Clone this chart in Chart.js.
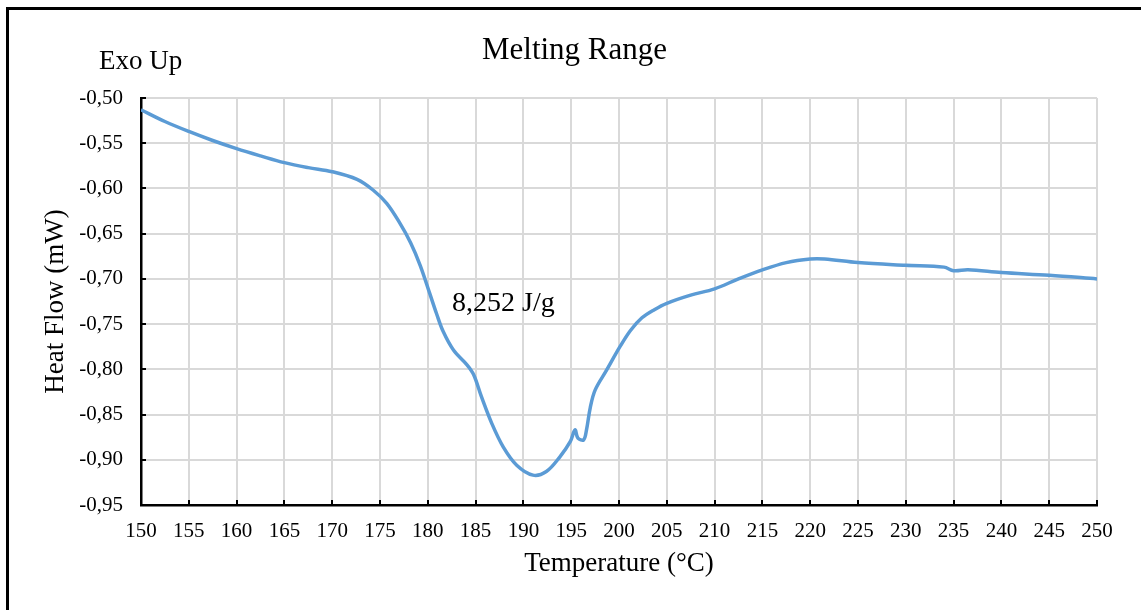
<!DOCTYPE html>
<html><head><meta charset="utf-8">
<script src="https://cdn.jsdelivr.net/npm/chart.js@4.4.1/dist/chart.umd.min.js"></script>
<style>
html,body{margin:0;padding:0;background:#fff;}
#wrap{position:relative;width:1141px;height:610px;overflow:hidden;background:#fff;}
#frame{position:absolute;left:6px;top:7px;right:-10px;bottom:-10px;border-top:3px solid #000;border-left:3px solid #000;pointer-events:none;}
</style></head><body>
<div id="wrap"><canvas id="c"></canvas><div id="frame"></div></div>
<script>
const temps = [150,152.5,155,157.5,160,162.5,165,167.5,170,172.6,174.3,175.7,177,178.2,179.2,180.2,180.9,181.6,182.7,184.1,184.8,185.6,186.7,187.9,189.3,191.0,192.4,193.8,194.9,195.4,195.7,196.3,196.6,197.0,197.5,198.7,200.1,201.2,202.4,203.7,205,207.5,210,212.5,215,217.5,220,221.5,225,230,234,235,236.5,240,245,250];
const heatFlow = [-0.513,-0.526,-0.537,-0.547,-0.556,-0.564,-0.5715,-0.577,-0.5815,-0.590,-0.602,-0.6165,-0.637,-0.660,-0.685,-0.716,-0.738,-0.758,-0.779,-0.795,-0.806,-0.830,-0.860,-0.886,-0.906,-0.917,-0.913,-0.897,-0.880,-0.867,-0.876,-0.878,-0.867,-0.842,-0.823,-0.801,-0.775,-0.757,-0.743,-0.734,-0.727,-0.718,-0.711,-0.700,-0.690,-0.682,-0.678,-0.678,-0.682,-0.685,-0.687,-0.691,-0.690,-0.693,-0.696,-0.700];
const xTickValues = [150,155,160,165,170,175,180,185,190,195,200,205,210,215,220,225,230,235,240,245,250];
const yTickValues = [-0.95,-0.90,-0.85,-0.80,-0.75,-0.70,-0.65,-0.60,-0.55,-0.50];
const chartTitle = 'Melting Range';
const xAxisTitle = 'Temperature (°C)';
const yAxisTitle = 'Heat Flow (mW)';
const cornerNote = 'Exo Up';
const peakNote = '8,252 J/g';

const SERIF = '"Liberation Serif", "Times New Roman", serif';

const extras = {
  id: 'extras',
  afterDraw(chart) {
    const {ctx, chartArea: a, scales: {x, y}} = chart;
    ctx.save();
    ctx.strokeStyle = '#000';
    ctx.lineWidth = 2;
    ctx.beginPath();
    xTickValues.forEach(v => { const p = Math.round(x.getPixelForValue(v)); ctx.moveTo(p, a.bottom); ctx.lineTo(p, a.bottom - 5); });
    yTickValues.forEach(v => { const p = Math.round(y.getPixelForValue(v)); ctx.moveTo(a.left, p); ctx.lineTo(a.left + 5, p); });
    ctx.stroke();
    ctx.fillStyle = '#000';
    ctx.textBaseline = 'alphabetic';
    ctx.font = '31px ' + SERIF;
    ctx.textAlign = 'center';
    ctx.fillText(chartTitle, 574.5, 59);
    ctx.textAlign = 'left';
    ctx.font = '27px ' + SERIF;
    ctx.fillText(cornerNote, 99, 69);
    ctx.font = '28px ' + SERIF;
    ctx.fillText(peakNote, 452, 311);
    ctx.restore();
  }
};

new Chart(document.getElementById('c'), {
  type: 'line',
  data: {
    datasets: [{
      data: temps.map((t, i) => ({x: t, y: heatFlow[i]})),
      borderColor: '#5b9bd5',
      borderWidth: 3.5,
      pointRadius: 0,
      tension: 0.35,
      borderJoinStyle: 'round',
      fill: false
    }]
  },
  options: {
    responsive: true,
    maintainAspectRatio: false,
    animation: false,
    layout: {padding: {top: 98, right: 44, left: 0, bottom: 0}},
    plugins: {legend: {display: false}, tooltip: {enabled: false}, title: {display: false}},
    scales: {
      x: {
        type: 'linear', min: 150, max: 250,
        afterBuildTicks: s => { s.ticks = xTickValues.map(v => ({value: v})); },
        afterFit: s => { s.height = 105; },
        grid: {color: '#d9d9d9', lineWidth: 2, drawTicks: false},
        border: {color: '#000', width: 2.5},
        ticks: {color: '#000', font: {family: SERIF, size: 21}, padding: 14, maxRotation: 0, autoSkip: false, callback: v => String(v)},
        title: {display: true, text: xAxisTitle, color: '#000', font: {family: SERIF, size: 27, lineHeight: 1.2}, padding: {top: 0, bottom: 30}}
      },
      y: {
        type: 'linear', min: -0.95, max: -0.5,
        afterBuildTicks: s => { s.ticks = yTickValues.map(v => ({value: v})); },
        afterFit: s => { s.width = 141; },
        grid: {color: '#d9d9d9', lineWidth: 2, drawTicks: false},
        border: {color: '#000', width: 2.5},
        ticks: {color: '#000', font: {family: SERIF, size: 21}, padding: 18, autoSkip: false, callback: v => Number(v).toFixed(2).replace('.', ',')},
        title: {display: true, text: yAxisTitle, color: '#000', font: {family: SERIF, size: 27, lineHeight: 1.2}, padding: {top: 40, bottom: 0}}
      }
    }
  },
  plugins: [extras]
});
</script>
</body></html>
